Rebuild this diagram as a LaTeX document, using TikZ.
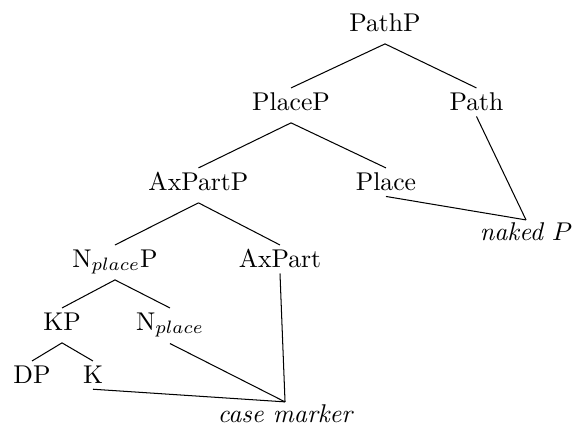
\documentclass[tikz,border=0pt]{standalone}
\usepackage{amsmath,amssymb}
\usepackage{tikz}
\tikzset{
  cat/.style={anchor=base, inner sep=2.2pt},
  gloss/.style={anchor=base, inner sep=0.7pt, font=\itshape},
  branch/.style={draw, line width=0.4pt},
  link/.style={draw, line width=0.4pt}
}
% tree edge: from below the mother's baseline to above the daughter's
\newcommand{\branchto}[2]{%
  \draw[branch] ([yshift=-5pt]#1.base) -- ([yshift=8.6pt]#2.base);}

\begin{document}
\begin{tikzpicture}
  \useasboundingbox (0,0) rectangle (7.899,5.887);
  % syntactic categories
  \node[cat] (pathp) at (5.271,5.462) {PathP};
  \node[cat] (placep) at (3.984,4.381) {PlaceP};
  \node[cat] (path) at (6.523,4.381) {Path};
  \node[cat] (axpartp) at (2.717,3.286) {AxPartP};
  \node[cat] (place) at (5.284,3.286) {Place};
  \node[cat] (nplacep) at (1.574,2.231) {N$_{place}$P};
  \node[cat] (axpart) at (3.833,2.231) {AxPart};
  \node[cat] (kp) at (0.849,1.369) {KP};
  \node[cat] (nplace) at (2.327,1.369) {N$_{place}$};
  \node[cat] (dp) at (0.438,0.643) {DP};
  \node[cat] (k) at (1.273,0.643) {K};
  % spell-out labels
  \node[gloss] (casemk) at (3.902,0.110) {case marker};
  \node[gloss] (nakedp) at (7.201,2.601) {naked $P$};
  % tree branches
  \branchto{pathp}{placep}
  \branchto{pathp}{path}
  \branchto{placep}{axpartp}
  \branchto{placep}{place}
  \branchto{axpartp}{nplacep}
  \branchto{axpartp}{axpart}
  \branchto{nplacep}{kp}
  \branchto{nplacep}{nplace}
  \branchto{kp}{dp}
  \branchto{kp}{k}
  % spans
  \draw[link] (k.south) -- (casemk.north);
  \draw[link] (nplace.south) -- (casemk.north);
  \draw[link] (axpart.south) -- (casemk.north);
  \draw[link] (place.south) -- (nakedp.north);
  \draw[link] (path.south) -- (nakedp.north);
\end{tikzpicture}
\end{document}
